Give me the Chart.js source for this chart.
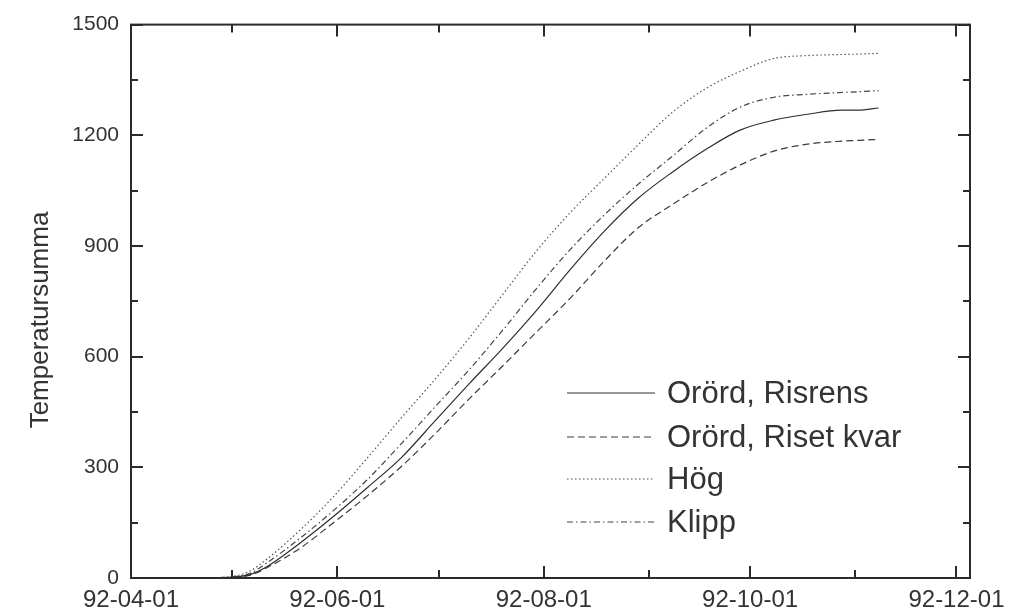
<!DOCTYPE html>
<html>
<head>
<meta charset="utf-8">
<title>Temperatursumma</title>
<script src="https://cdn.jsdelivr.net/npm/chart.js@4.4.1/dist/chart.umd.min.js"></script>
<style>
  body { margin: 0; background: #fff; }
  #wrap { width: 1020px; height: 611px; }
</style>
</head>
<body>
<div id="wrap"><canvas id="chart" width="1020" height="611"></canvas></div>
<script>
// days counted from 92-04-01
const days = [14, 25, 30, 35, 40, 50, 60, 70, 80, 90, 100, 110, 120, 130, 140, 150, 160, 170, 180, 190, 200, 210, 215, 221];

const risrens   = [0, 1, 2, 9, 30, 95, 168, 246, 327, 427, 527, 624, 727, 838, 941, 1030, 1100, 1162, 1214, 1241, 1257, 1268, 1268, 1274];
const risetKvar = [0, 1, 2, 7, 27, 81, 151, 224, 303, 392, 486, 576, 668, 760, 860, 950, 1012, 1070, 1119, 1157, 1176, 1184, 1186, 1189];
const hog       = [0, 1, 4, 18, 50, 130, 222, 327, 435, 540, 651, 770, 888, 992, 1084, 1175, 1262, 1327, 1373, 1408, 1416, 1419, 1420, 1422];
const klipp     = [0, 1, 3, 12, 40, 108, 184, 268, 365, 465, 565, 673, 786, 892, 985, 1068, 1143, 1219, 1276, 1303, 1311, 1316, 1318, 1321];

const seriesNames = ['Orörd, Risrens', 'Orörd, Riset kvar', 'Hög', 'Klipp'];

// month starts; only every second one is labelled
const tickDays = [0, 30, 61, 91, 122, 153, 183, 214, 244];
const tickLabels = ['92-04-01', '', '92-06-01', '', '92-08-01', '', '92-10-01', '', '92-12-01'];
const yTicks = [0, 300, 600, 900, 1200, 1500];

const axisTitle = 'Temperatursumma';
const FONT = "'Liberation Sans', Arial, sans-serif";

function toPoints(values) {
  return values.map((v, i) => ({ x: days[i], y: v }));
}

// frame with inward ticks on all four sides
const framePlugin = {
  id: 'frame',
  afterDraw(chart) {
    const { ctx, chartArea: a, scales: { x, y } } = chart;
    ctx.save();
    ctx.strokeStyle = '#2b2b2b';
    ctx.lineWidth = 2;
    ctx.strokeRect(a.left, a.top, a.right - a.left, a.bottom - a.top);

    const seg = (x1, y1, x2, y2) => {
      ctx.beginPath();
      ctx.moveTo(x1, y1);
      ctx.lineTo(x2, y2);
      ctx.stroke();
    };

    tickDays.forEach((d, i) => {
      const px = Math.round(x.getPixelForValue(d));
      const len = tickLabels[i] ? 12 : 8;
      seg(px, a.bottom, px, a.bottom - len);
      seg(px, a.top, px, a.top + len);
    });

    for (let v = 0; v <= 1500; v += 150) {
      const py = Math.round(y.getPixelForValue(v));
      const len = v % 300 === 0 ? 12 : 7;
      seg(a.left, py, a.left + len, py);
      seg(a.right, py, a.right - len, py);
    }

    // y axis title
    ctx.fillStyle = '#333';
    ctx.font = '26px ' + FONT;
    ctx.textAlign = 'center';
    ctx.textBaseline = 'middle';
    ctx.translate(41, 320);
    ctx.rotate(-Math.PI / 2);
    ctx.fillText(axisTitle, 0, 0);
    ctx.restore();
  }
};

// legend inside the plot, bottom right
const legendPlugin = {
  id: 'innerLegend',
  afterDatasetsDraw(chart) {
    const { ctx, chartArea: a } = chart;
    const x0 = a.left + 436;
    const x1 = a.left + 524;
    const textX = a.left + 536;
    const rowY = [393, 437, 479, 522];
    ctx.save();
    chart.data.datasets.forEach((ds, i) => {
      ctx.strokeStyle = ds.borderColor;
      ctx.lineWidth = ds.borderWidth;
      ctx.setLineDash(ds.borderDash || []);
      ctx.beginPath();
      ctx.moveTo(x0, rowY[i]);
      ctx.lineTo(x1, rowY[i]);
      ctx.stroke();
      ctx.setLineDash([]);
      ctx.fillStyle = '#333';
      ctx.font = '31px ' + FONT;
      ctx.textAlign = 'left';
      ctx.textBaseline = 'middle';
      ctx.fillText(ds.label, textX, rowY[i] + 1);
    });
    ctx.restore();
  }
};

const lineBase = {
  pointRadius: 0,
  fill: false,
  cubicInterpolationMode: 'monotone',
  borderWidth: 1.2
};

new Chart(document.getElementById('chart'), {
  type: 'line',
  data: {
    datasets: [
      { ...lineBase, label: seriesNames[0], data: toPoints(risrens), borderColor: '#2e2e2e', borderDash: [] },
      { ...lineBase, label: seriesNames[1], data: toPoints(risetKvar), borderColor: '#3a3a3a', borderDash: [7, 4] },
      { ...lineBase, label: seriesNames[2], data: toPoints(hog), borderColor: '#555', borderDash: [1.5, 2.5] },
      { ...lineBase, label: seriesNames[3], data: toPoints(klipp), borderColor: '#444', borderDash: [6, 3, 1.5, 3] }
    ]
  },
  options: {
    responsive: false,
    animation: false,
    events: [],
    layout: { padding: { left: 0, top: 23, right: 50, bottom: 0 } },
    plugins: {
      legend: { display: false },
      tooltip: { enabled: false }
    },
    scales: {
      x: {
        type: 'linear',
        min: 0,
        max: 248,
        afterBuildTicks: (scale) => {
          scale.ticks = tickDays.map(v => ({ value: v }));
        },
        afterFit: (scale) => { scale.height = 33; },
        grid: { display: false, drawTicks: false },
        border: { display: false },
        ticks: {
          autoSkip: false,
          maxRotation: 0,
          padding: 8,
          color: '#333',
          font: { family: FONT, size: 24 },
          callback: (value) => {
            const i = tickDays.indexOf(value);
            return i >= 0 ? tickLabels[i] : '';
          }
        }
      },
      y: {
        min: 0,
        max: 1500,
        afterBuildTicks: (scale) => {
          scale.ticks = yTicks.map(v => ({ value: v }));
        },
        afterFit: (scale) => { scale.width = 131; },
        grid: { display: false, drawTicks: false },
        border: { display: false },
        ticks: {
          padding: 12,
          color: '#333',
          font: { family: FONT, size: 21 },
          callback: (value) => String(value)
        }
      }
    }
  },
  plugins: [legendPlugin, framePlugin]
});
</script>
</body>
</html>
